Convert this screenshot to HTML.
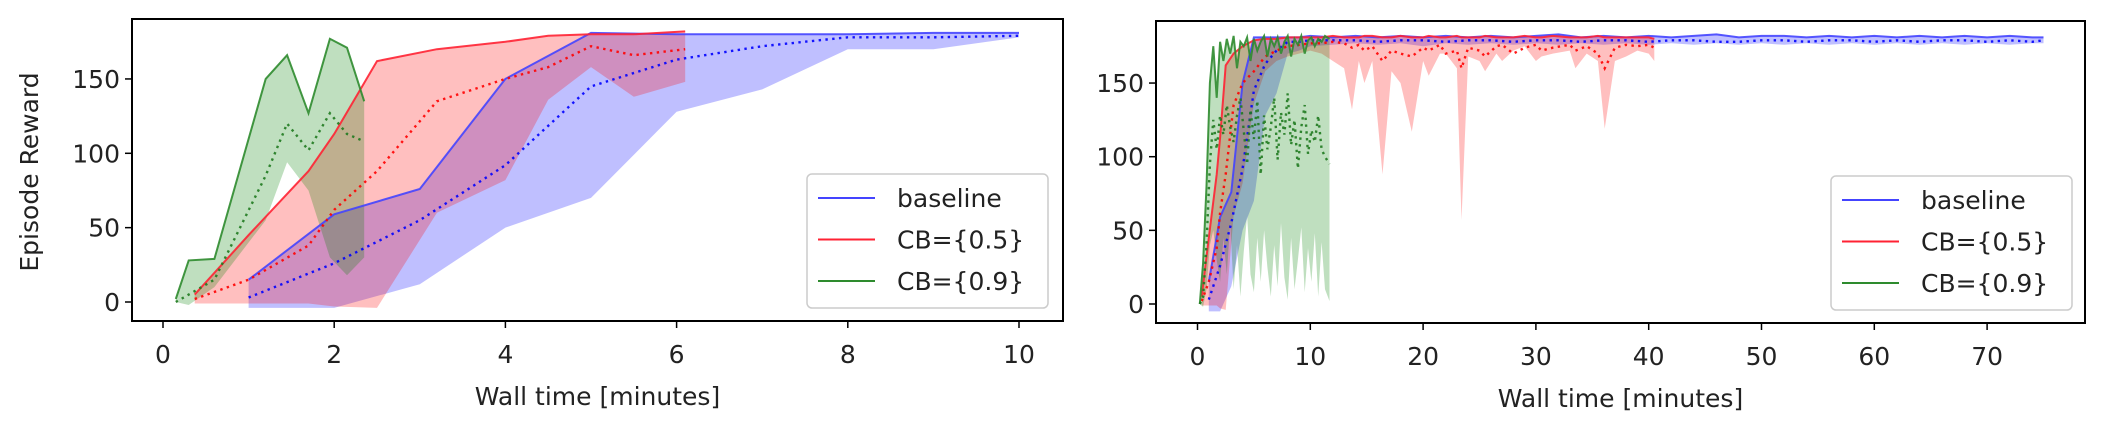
<!DOCTYPE html>
<html><head><meta charset="utf-8"><style>
html,body{margin:0;padding:0;background:#fff;}
svg{display:block;font-family:"DejaVu Sans","Liberation Sans",sans-serif;}
</style></head><body>
<svg id="fig" width="2102" height="428" viewBox="0 0 2102 428" xmlns="http://www.w3.org/2000/svg">
<rect width="2102" height="428" fill="#fff"/>
<g id="left"></g>
<g id="right"></g>
</svg>
<script>
// ---- left chart data ----
const L_blue_t   = [1,2,3,4,5,6,7,8,9,10];
const L_blue_max = [15,59,76,150,181,180,180,180,181,181];
const L_blue_mean= [3,26,55,92,145,163,172,178,178,179];
const L_blue_min = [-4,-4,12,50,70,128,143,170,170,178];
const L_red_t    = [0.37,1.0,1.7,2.0,2.5,3.2,4.0,4.5,5.0,5.5,6.1];
const L_red_max  = [5,45,88,113,162,170,175,179,180,180,182];
const L_red_mean = [2,15,38,62,88,135,150,158,172,166,170];
const L_red_min  = [-1,-1,-1,-3,-4,60,82,136,158,138,148];
const L_green_t  = [0.15,0.3,0.6,1.2,1.45,1.7,1.95,2.15,2.35];
const L_green_max= [2,28,29,150,166,127,177,171,135];
const L_green_mean=[0,5,15,85,120,102,127,113,108];
const L_green_min= [0,-2,10,55,94,75,30,18,30];
const L_xticks = [0,2,4,6,8,10];
const L_yticks = [0,50,100,150];
// ---- right chart data ----
const R_blue_t   = [1,2,3,4,5,6,7,8,9,10,12,14,16,18,20,22,24,26,28,30,32,34,36,38,40,42,44,46,48,50,52,54,56,58,60,62,64,66,68,70,72,74,75];
const R_blue_max = [15,59,76,150,181,181,181,181,181,182,181,182,181,182,181,182,181,182,181,182,183,181,182,181,182,181,182,183,181,182,182,181,182,181,182,181,182,181,182,181,182,181,181];
const R_blue_mean= [3,26,55,92,145,163,172,178,178,179,179,179,178,179,179,178,179,179,178,179,179,178,179,179,178,179,179,178,178,179,179,178,179,179,178,179,178,179,179,178,179,178,179];
const R_blue_min = [-5,-5,12,50,70,128,143,170,172,175,176,177,176,177,175,177,176,177,176,177,176,177,176,177,176,177,176,177,176,177,176,177,176,177,176,177,176,177,176,177,176,177,177];
const R_red_t    = [0.37,1,1.7,2,2.5,3.2,4,5,6,7,8,9,10,11,12,13,13.7,14.3,14.8,15.5,16.4,17.2,18,19,20,20.5,21.5,22,23,23.4,24,25,25.5,26.5,27,28,29,30,30.5,31.5,33,33.5,34.5,35.5,36.1,37,38,39,40,40.5];
const R_red_max  = [5,45,88,113,162,170,175,179,180,180,181,181,181,181,182,181,181,181,182,182,181,181,182,181,181,182,181,181,182,181,181,181,182,181,181,181,182,181,181,182,181,181,181,182,181,181,181,181,181,180];
const R_red_mean = [2,15,38,62,88,135,150,158,168,172,175,176,177,177,178,177,174,176,172,175,165,172,170,168,174,172,176,170,172,160,174,172,168,175,176,170,174,176,172,174,176,172,175,170,160,174,176,175,176,174];
const R_red_min  = [-1,-1,-1,-3,-4,60,82,136,158,165,168,170,172,170,165,160,132,165,150,165,88,158,150,117,165,155,170,170,160,57,168,165,158,170,165,172,175,165,168,170,172,160,170,165,119,165,168,172,170,165];
const R_green_t  = [0.2,0.5,0.8,1.1,1.4,1.7,2,2.3,2.6,2.9,3.2,3.5,3.8,4.1,4.4,4.7,5,5.3,5.6,5.9,6.2,6.5,6.8,7.1,7.4,7.7,8,8.3,8.6,8.9,9.2,9.5,9.8,10.1,10.4,10.7,11,11.3,11.7];
const R_green_max= [0,28,80,150,175,140,178,165,180,170,182,160,178,175,181,165,180,172,178,182,168,180,175,181,170,178,182,168,180,176,182,170,179,181,175,180,178,182,180];
const R_green_mean=[0,5,40,95,125,105,128,115,135,120,110,128,140,118,95,132,112,138,88,128,105,120,140,98,130,115,143,108,125,92,120,135,102,118,110,128,105,100,95];
const R_green_min= [0,-2,10,40,50,30,15,45,20,55,10,40,5,35,60,20,8,45,15,50,25,5,40,12,55,18,3,45,10,30,52,8,38,15,48,5,42,10,2];
const R_xticks = [0,10,20,30,40,50,60,70];
const R_yticks = [0,50,100,150];
const legendLabels = ["baseline","CB={0.5}","CB={0.9}"];

const NS="http://www.w3.org/2000/svg";
const COL={blue:["#0000ff","rgba(0,0,255,0.25)","#4444ff"],red:["#ff0000","rgba(255,0,0,0.25)","#ff2233"],green:["#1f7a1f","rgba(0,128,0,0.25)","#2e8b2e"]};
function mk(parent,tag,attrs){const e=document.createElementNS(NS,tag);for(const k in attrs)e.setAttribute(k,attrs[k]);parent.appendChild(e);return e;}

function chart(g,cfg){
  const X=v=>cfg.x0+(v-cfg.xmin)*cfg.xs, Y=v=>cfg.y0-v*cfg.ys;
  const pts=(t,v)=>t.map((tt,i)=>X(tt).toFixed(1)+","+Y(v[i]).toFixed(1)).join(" ");
  cfg.series.forEach(s=>{
    const c=COL[s.c];
    const band=mk(g,"polygon",{points:pts(s.t,s.max)+" "+pts(s.t.slice().reverse(),s.min.slice().reverse()),fill:c[1],stroke:"none"});
    
    
  });
  cfg.series.forEach(s=>{
    const c=COL[s.c];
    const ln=mk(g,"polyline",{points:pts(s.t,s.max),fill:"none",stroke:c[2],"stroke-width":2,"stroke-opacity":0.9});
    
    
    const dl=mk(g,"polyline",{points:pts(s.t,s.mean),fill:"none",stroke:c[0],"stroke-width":2.4,"stroke-dasharray":"2.4,4.4","stroke-opacity":0.9});
    
    
  });
  const fr=mk(g,"rect",{x:cfg.L,y:cfg.T,width:cfg.R-cfg.L,height:cfg.B-cfg.T,fill:"none",stroke:"#000","stroke-width":2});
  
  
  cfg.xticks.forEach(v=>{
    mk(g,"line",{x1:X(v),x2:X(v),y1:cfg.B,y2:cfg.B+7,stroke:"#000","stroke-width":1.5});
    const t=mk(g,"text",{x:X(v),y:cfg.B+42,"text-anchor":"middle","font-size":25,fill:"#222"});
    t.textContent=v;
    
    
  });
  cfg.yticks.forEach(v=>{
    mk(g,"line",{x1:cfg.L-7,x2:cfg.L,y1:Y(v),y2:Y(v),stroke:"#000","stroke-width":1.5});
    const t=mk(g,"text",{x:cfg.L-12,y:Y(v)+9,"text-anchor":"end","font-size":25,fill:"#222"});
    t.textContent=v;
    
    
  });
  const xl=mk(g,"text",{x:(cfg.L+cfg.R)/2,y:cfg.B+84,"text-anchor":"middle","font-size":25,fill:"#222"});
  xl.textContent="Wall time [minutes]";
  
  
  // legend
  const lg=mk(g,"g",{});
  
  
  mk(lg,"rect",{x:cfg.lx,y:cfg.ly,width:241,height:134,rx:5,fill:"rgba(255,255,255,0.8)",stroke:"#ccc","stroke-width":1.5});
  ["blue","red","green"].forEach((k,i)=>{
    const yy=cfg.ly+24+i*41.5;
    mk(lg,"line",{x1:cfg.lx+11,x2:cfg.lx+68,y1:yy,y2:yy,stroke:COL[k][2],"stroke-width":2});
    const t=mk(lg,"text",{x:cfg.lx+90,y:yy+9,"font-size":25,fill:"#222"});
    t.textContent=legendLabels[i];
    
    
  });
}

chart(document.getElementById("left"),{L:132,R:1063,T:19,B:321,x0:163,xmin:0,xs:85.6,y0:302,ys:1.487,
  xticks:L_xticks,yticks:L_yticks,lx:807,ly:174,
  series:[{c:"blue",t:L_blue_t,max:L_blue_max,mean:L_blue_mean,min:L_blue_min},
          {c:"red",t:L_red_t,max:L_red_max,mean:L_red_mean,min:L_red_min},
          {c:"green",t:L_green_t,max:L_green_max,mean:L_green_mean,min:L_green_min}]});
chart(document.getElementById("right"),{L:1156,R:2085,T:21,B:323,x0:1197.5,xmin:0,xs:11.28,y0:304,ys:1.473,
  xticks:R_xticks,yticks:R_yticks,lx:1831,ly:176,
  series:[{c:"blue",t:R_blue_t,max:R_blue_max,mean:R_blue_mean,min:R_blue_min},
          {c:"red",t:R_red_t,max:R_red_max,mean:R_red_mean,min:R_red_min},
          {c:"green",t:R_green_t,max:R_green_max,mean:R_green_mean,min:R_green_min}]});
const yl=document.createElementNS(NS,"text");
yl.setAttribute("transform","translate(38,172) rotate(-90)");
yl.setAttribute("text-anchor","middle");
yl.setAttribute("font-size","25");
yl.setAttribute("fill","#222");
yl.textContent="Episode Reward";


document.getElementById("left").appendChild(yl);
</script>
</body></html>
